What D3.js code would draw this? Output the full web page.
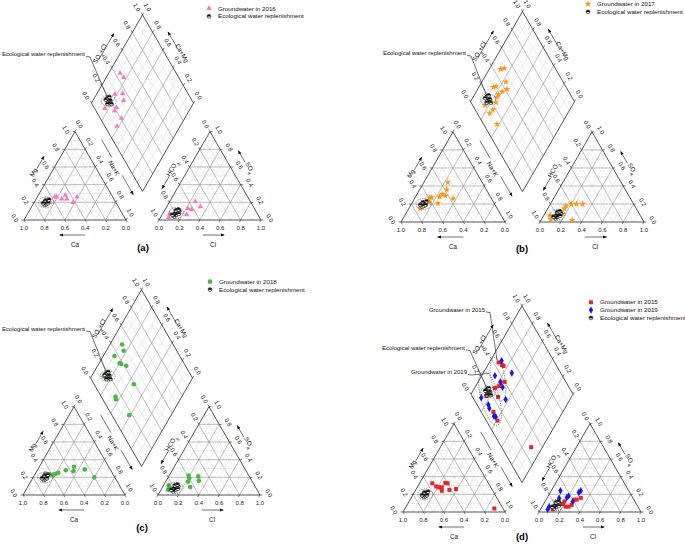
<!DOCTYPE html>
<html>
<head>
<meta charset="utf-8">
<script src="https://cdn.jsdelivr.net/npm/d3@7"></script>
<style>
  body { margin: 0; background: #fff; }
  svg { display: block; font-family: "Liberation Sans", Arial, sans-serif; }
</style>
</head>
<body>
<svg id="chart" width="685" height="544"></svg>
<script>
// ---- data ----
// cation triangle: [Ca, Mg]   anion triangle: [Cl, SO4]   diamond: [SO4+Cl, Ca+Mg]
const ecoCation  = [[0.70,0.20],[0.68,0.22],[0.71,0.17],[0.66,0.21],[0.69,0.18],[0.64,0.23],[0.72,0.19],[0.67,0.19]];
const ecoAnion   = [[0.12,0.08],[0.14,0.06],[0.11,0.11],[0.15,0.10],[0.13,0.04],[0.16,0.07],[0.10,0.06],[0.13,0.12]];
const ecoDiamond = [[0.19,0.87],[0.17,0.85],[0.20,0.83],[0.16,0.88],[0.18,0.82],[0.21,0.86],[0.15,0.84],[0.19,0.80]];

const cation2016  = [[0.67,0.23],[0.645,0.20],[0.57,0.26],[0.55,0.26],[0.51,0.24],[0.455,0.28],[0.46,0.24],[0.42,0.20],[0.35,0.26]];
const anion2016   = [[0.07,0.07],[0.08,0.03],[0.15,0.09],[0.24,0.06],[0.22,0.13],[0.26,0.12],[0.25,0.21],[0.33,0.15]];
const diamond2016 = [[0.45,0.89],[0.46,0.83],[0.28,0.82],[0.36,0.75],[0.33,0.70],[0.10,0.84],[0.22,0.73],[0.18,0.73],[0.21,0.62],[0.12,0.62]];

const cation2017  = [[0.33,0.44],[0.38,0.36],[0.45,0.31],[0.49,0.28],[0.43,0.29],[0.54,0.21],[0.57,0.27],[0.59,0.27],[0.37,0.26],[0.66,0.20],[0.74,0.15],[0.62,0.22]];
const anion2017   = [[0.09,0.03],[0.06,0.07],[0.14,0.11],[0.16,0.15],[0.16,0.18],[0.20,0.20],[0.25,0.20],[0.31,0.20],[0.30,0.02],[0.17,0.09]];
const diamond2017 = [[0.47,0.89],[0.51,0.86],[0.45,0.77],[0.30,0.86],[0.33,0.84],[0.42,0.72],[0.36,0.75],[0.31,0.77],[0.28,0.77],[0.24,0.75],[0.12,0.84],[0.17,0.74],[0.12,0.75],[0.13,0.62]];

const cation2018  = [[0.66,0.24],[0.65,0.23],[0.62,0.23],[0.59,0.23],[0.56,0.24],[0.53,0.25],[0.44,0.28],[0.34,0.32],[0.37,0.27],[0.25,0.29],[0.20,0.20]];
const anion2018   = [[0.05,0.11],[0.08,0.08],[0.10,0.06],[0.07,0.06],[0.19,0.22],[0.21,0.19],[0.22,0.15],[0.29,0.21],[0.32,0.16],[0.27,0.09]];
const diamond2018 = [[0.50,0.88],[0.48,0.83],[0.36,0.89],[0.37,0.80],[0.38,0.78],[0.42,0.72],[0.14,0.88],[0.39,0.54],[0.14,0.65],[0.13,0.63],[0.17,0.41]];

const cation2015  = [[0.55,0.325],[0.53,0.29],[0.51,0.28],[0.48,0.28],[0.50,0.24],[0.42,0.33],[0.40,0.325],[0.42,0.25],[0.35,0.26],[0.68,0.22],[0.085,0.04]];
const anion2015   = [[0.12,0.03],[0.19,0.09],[0.23,0.06],[0.26,0.06],[0.28,0.14],[0.30,0.14],[0.33,0.16],[0.19,0.12],[0.28,0.08]];
const diamond2015 = [[0.45,0.91],[0.47,0.86],[0.48,0.84],[0.40,0.74],[0.35,0.77],[0.32,0.77],[0.27,0.80],[0.14,0.84],[0.25,0.72],[0.12,0.68],[0.11,0.59],[0.29,0.11]];

const cation2019  = [];
const anion2019   = [[0.09,0.24],[0.12,0.155],[0.19,0.165],[0.20,0.18],[0.27,0.12],[0.28,0.22],[0.29,0.24],[0.07,0.06],[0.07,0.03]];
const diamond2019 = [[0.49,0.89],[0.52,0.72],[0.34,0.87],[0.36,0.78],[0.35,0.73],[0.17,0.84],[0.31,0.63],[0.11,0.77],[0.10,0.74],[0.10,0.65],[0.115,0.63],[0.08,0.88]];

const tickValues = [0, 0.2, 0.4, 0.6, 0.8, 1.0];
const gridValues = d3.range(1, 10).map(i => i / 10);

// series styles
const gw2016 = { name: "Groundwater in 2016", color: "#f47cc3", type: d3.symbolTriangle, size: 13, cation: cation2016, anion: anion2016, diamond: diamond2016 };
const gw2017 = { name: "Groundwater in 2017", color: "#ff9415", type: d3.symbolStar, size: 15, cation: cation2017, anion: anion2017, diamond: diamond2017 };
const gw2018 = { name: "Groundwater in 2018", color: "#4cb84a", type: d3.symbolCircle, size: 17, cation: cation2018, anion: anion2018, diamond: diamond2018 };
const gw2015 = { name: "Groundwater in 2015", color: "#e8262a", type: d3.symbolSquare, size: 16, cation: cation2015, anion: anion2015, diamond: diamond2015 };
const gw2019 = { name: "Groundwater in 2019", color: "#1616f0", type: d3.symbolDiamond, size: 16, cation: cation2019, anion: anion2019, diamond: diamond2019 };

// panel layout
const panels = [
  { x0: 24,  y0: 220, s: 102, g: 33, label: "(a)", labelPos: [143, 248], legend: [209, 8.5],
    series: [gw2016], ecoNote: [85, 54], notes: [] },
  { x0: 401, y0: 222, s: 104, g: 35, label: "(b)", labelPos: [522, 249], legend: [588, 4],
    series: [gw2017], ecoNote: [466, 53], notes: [] },
  { x0: 23,  y0: 495, s: 102, g: 33, label: "(c)", labelPos: [142, 528], legend: [210, 281.7],
    series: [gw2018], ecoNote: [85, 328.5], notes: [] },
  { x0: 403, y0: 512, s: 102, g: 34, label: "(d)", labelPos: [522, 537], legend: [591, 302.3],
    series: [gw2015, gw2019], ecoNote: [465, 347.5],
    notes: [
      { text: "Groundwater in 2015", at: [485, 309.5], ellipse: { c: [0.35, 0.82], rx: 7, ry: 22, rot: -10 } },
      { text: "Groundwater in 2019", at: [467, 372],   ellipse: { c: [0.165, 0.79], rx: 9, ry: 28, rot: -15 } }
    ] }
];

const svg = d3.select("#chart");
const R3 = Math.sqrt(3) / 2;
const fmt = d3.format(".1f");

svg.append("defs").append("marker")
  .attr("id", "ah").attr("viewBox", "0 0 10 10").attr("refX", 9).attr("refY", 5)
  .attr("markerUnits", "userSpaceOnUse").attr("markerWidth", 4).attr("markerHeight", 4)
  .attr("orient", "auto")
  .append("path").attr("d", "M0,1L10,5L0,9Z").attr("fill", "#111");

function pt(a, b, t, n, off) {
  return [a[0] + (b[0] - a[0]) * t + n[0] * off, a[1] + (b[1] - a[1]) * t + n[1] * off];
}
const nL = [-R3, -0.5], nR = [R3, -0.5];

function seg(g, a, b, color, w) {
  g.append("line").attr("x1", a[0]).attr("y1", a[1]).attr("x2", b[0]).attr("y2", b[1])
    .attr("stroke", color).attr("stroke-width", w);
}
function arrow(g, a, b) {
  g.append("line").attr("x1", a[0]).attr("y1", a[1]).attr("x2", b[0]).attr("y2", b[1])
    .attr("stroke", "#111").attr("stroke-width", 0.6).attr("marker-end", "url(#ah)");
}
function label(g, pos, txt, rot, size) {
  g.append("text")
    .attr("transform", `translate(${pos[0]},${pos[1]}) rotate(${rot})`)
    .attr("text-anchor", "middle").attr("dy", "0.35em")
    .attr("font-size", size || 6).attr("fill", "#222").text(txt);
}
function title(g, pos, rot, parts) {
  const t = g.append("text")
    .attr("transform", `translate(${pos[0]},${pos[1]}) rotate(${rot})`)
    .attr("text-anchor", "middle").attr("dy", "0.35em").attr("fill", "#111");
  parts.forEach(([s, sub]) => {
    t.append("tspan").attr("font-size", sub ? 4.6 : 6.3)
      .attr("baseline-shift", sub ? "sub" : null).text(s);
  });
}
function ecoMark(sel) {
  sel.append("circle").attr("r", 1.9).attr("fill", "#fff").attr("stroke", "#000").attr("stroke-width", 0.6);
  sel.append("path").attr("d", "M-1.9,0.3A1.9,1.9 0 0 1 1.9,0.3Z").attr("fill", "#000");
}
function dashedEllipse(g, c, rx, ry, rot) {
  g.append("ellipse").attr("transform", `translate(${c[0]},${c[1]}) rotate(${rot})`)
    .attr("rx", rx).attr("ry", ry).attr("fill", "none")
    .attr("stroke", "#333").attr("stroke-width", 0.5).attr("stroke-dasharray", "1.4,1");
}

function drawPanel(p) {
  const g = svg.append("g");
  const len = d3.scaleLinear().domain([0, 1]).range([0, p.s]);
  const x1 = p.x0 + p.s + p.g;
  const bx = p.x0 + p.s + p.g / 2, by = p.y0 - p.g * R3;
  const cat = (a, m) => [p.x0 + len(1 - a - m / 2), p.y0 - len(m) * R3];
  const an  = (c, s4) => [x1 + len(c + s4 / 2), p.y0 - len(s4) * R3];
  const dia = (pp, q) => [bx + len((pp - q) / 2), by - len(pp + q) * R3];

  // grid
  gridValues.forEach(v => {
    const major = Math.round(v * 10) % 2 === 0;
    const col = major ? "#8e8e8e" : "#d6d6d6", w = major ? 0.6 : 0.5;
    seg(g, cat(1 - v, v), cat(0, v), col, w);
    seg(g, cat(v, 0), cat(v, 1 - v), col, w);
    seg(g, cat(1 - v, 0), cat(0, 1 - v), col, w);
    seg(g, an(v, 0), an(v, 1 - v), col, w);
    seg(g, an(0, v), an(1 - v, v), col, w);
    seg(g, an(1 - v, 0), an(0, 1 - v), col, w);
    seg(g, dia(v, 0), dia(v, 1), col, w);
    seg(g, dia(0, v), dia(1, v), col, w);
  });

  // outlines
  const outline = pts => g.append("path").attr("d", d3.line()(pts) + "Z")
    .attr("fill", "none").attr("stroke", "#2a2a2a").attr("stroke-width", 0.8);
  outline([cat(1, 0), cat(0, 0), cat(0, 1)]);
  outline([an(0, 0), an(1, 0), an(0, 1)]);
  outline([dia(0, 0), dia(1, 0), dia(1, 1), dia(0, 1)]);

  // ticks and tick labels
  const tk = (a, d) => seg(g, a, [a[0] + d[0] * 2.5, a[1] + d[1] * 2.5], "#2a2a2a", 0.6);
  const off = (a, d) => [a[0] + d[0], a[1] + d[1]];
  tickValues.forEach(v => {
    const t = fmt(v);
    tk(cat(v, 0), [0.5, R3]);          label(g, off(cat(v, 0), [0, 8]), t, 0);
    tk(cat(1 - v, v), [-1, 0]);        label(g, off(cat(1 - v, v), [-9, -2]), t, 60);
    tk(cat(0, 1 - v), [0.5, -R3]);     label(g, off(cat(0, 1 - v), [4.5, -7.5]), t, 60);
    tk(an(v, 0), [-0.5, R3]);          label(g, off(an(v, 0), [0, 8]), t, 0);
    tk(an(0, 1 - v), [-0.5, -R3]);     label(g, off(an(0, 1 - v), [-4.5, -7.5]), t, 60);
    tk(an(1 - v, v), [1, 0]);          label(g, off(an(1 - v, v), [9, -2]), t, 60);
    tk(dia(v, 1), [-0.5, -R3]);        label(g, off(dia(v, 1), [-5.5, -7.5]), t, 60);
    tk(dia(1, v), [0.5, -R3]);         label(g, off(dia(1, v), [5, -7.5]), t, 60);
  });

  // axis titles with arrows
  const BL = cat(1, 0), BR = cat(0, 0), AP = cat(0, 1);
  title(g, pt(BL, AP, 0.45, nL, 19), -60, [["Mg"]]);
  arrow(g, pt(BL, AP, 0.5, nL, 14.5), pt(BL, AP, 0.64, nL, 14.5));
  title(g, pt(AP, BR, 0.5, nR, 19), 60, [["Na+K"]]);
  seg(g, pt(AP, BR, 0.2, nR, 19), pt(AP, BR, 0.4, nR, 19), "#111", 0.6);
  arrow(g, pt(AP, BR, 0.6, nR, 19), pt(AP, BR, 0.82, nR, 19));
  arrow(g, [p.x0 + len(0.6), p.y0 + 15], [p.x0 + len(0.35), p.y0 + 15]);
  title(g, [p.x0 + len(0.5), p.y0 + 21], 0, [["Ca"]]);

  const BL2 = an(0, 0), BR2 = an(1, 0), AP2 = an(0, 1);
  title(g, pt(BL2, AP2, 0.5, nL, 18), -60, [["HCO"], ["3", true]]);
  arrow(g, pt(BL2, AP2, 0.42, nL, 13), pt(BL2, AP2, 0.28, nL, 13));
  title(g, pt(AP2, BR2, 0.5, nR, 20), 60, [["SO"], ["4", true]]);
  arrow(g, pt(AP2, BR2, 0.43, nR, 15), pt(AP2, BR2, 0.3, nR, 15));
  arrow(g, [x1 + len(0.43), p.y0 + 15], [x1 + len(0.64), p.y0 + 15]);
  title(g, [x1 + len(0.53), p.y0 + 21], 0, [["Cl"]]);

  const L = dia(0, 1), T = dia(1, 1), R = dia(1, 0);
  title(g, pt(L, T, 0.46, nL, 21), -60, [["SO"], ["4", true], ["+Cl"]]);
  arrow(g, pt(L, T, 0.4, nL, 15.5), pt(L, T, 0.7, nL, 15.5));
  title(g, pt(T, R, 0.52, nR, 18.5), 60, [["Ca+Mg"]]);
  arrow(g, pt(T, R, 0.45, nR, 13.5), pt(T, R, 0.27, nR, 13.5));

  // groundwater points
  p.series.forEach(sr => {
    const sym = d3.symbol().type(sr.type).size(sr.size);
    [[sr.cation, cat], [sr.anion, an], [sr.diamond, dia]].forEach(([arr, f]) => {
      g.selectAll(null).data(arr).enter().append("path")
        .attr("d", sym).attr("fill", sr.color)
        .attr("transform", d => { const q = f(d[0], d[1]); return `translate(${q[0]},${q[1]})`; });
    });
  });

  // ecological replenishment points + dashed outlines
  [[ecoCation, cat], [ecoAnion, an], [ecoDiamond, dia]].forEach(([arr, f]) => {
    const c = [d3.mean(arr, d => f(d[0], d[1])[0]), d3.mean(arr, d => f(d[0], d[1])[1])];
    dashedEllipse(g, c, 7.5, 5.5, 0);
    g.selectAll(null).data(arr).enter().append("g")
      .attr("transform", d => { const q = f(d[0], d[1]); return `translate(${q[0]},${q[1]})`; })
      .call(ecoMark);
  });

  // annotations
  const ecoC = [d3.mean(ecoDiamond, d => dia(d[0], d[1])[0]), d3.mean(ecoDiamond, d => dia(d[0], d[1])[1])];
  const note = (txt, at, target) => {
    g.append("text").attr("x", at[0]).attr("y", at[1]).attr("dy", "0.35em")
      .attr("text-anchor", "end").attr("font-size", 6).attr("fill", "#111").text(txt);
    g.append("path").attr("d", d3.line()([[at[0] + 1, at[1] + 2.5], [at[0] + 5, at[1] + 3], target]))
      .attr("fill", "none").attr("stroke", "#111").attr("stroke-width", 0.6);
  };
  note("Ecological water replenishment", p.ecoNote, [ecoC[0] - 2, ecoC[1] - 5]);
  p.notes.forEach(n => {
    const c = dia(n.ellipse.c[0], n.ellipse.c[1]);
    dashedEllipse(g, c, n.ellipse.rx, n.ellipse.ry, n.ellipse.rot);
    note(n.text, n.at, [c[0] - 1, c[1] - n.ellipse.ry + 3]);
  });

  // legend
  const rows = p.series.map(sr => ({ name: sr.name, sr })).concat([{ name: "Ecological water replenishment" }]);
  rows.forEach((r, i) => {
    const y = p.legend[1] + i * 7.8;
    if (r.sr) {
      g.append("path").attr("d", d3.symbol().type(r.sr.type).size(r.sr.size)())
        .attr("fill", r.sr.color).attr("transform", `translate(${p.legend[0]},${y})`);
    } else {
      g.append("g").attr("transform", `translate(${p.legend[0]},${y})`).call(ecoMark);
    }
    g.append("text").attr("x", p.legend[0] + 9).attr("y", y).attr("dy", "0.35em")
      .attr("font-size", 6.2).attr("fill", "#111").text(r.name);
  });

  // panel label
  g.append("text").attr("x", p.labelPos[0]).attr("y", p.labelPos[1]).attr("dy", "0.35em")
    .attr("text-anchor", "middle").attr("font-size", 9.5).attr("font-weight", "bold").text(p.label);
}

panels.forEach(drawPanel);
</script>
</body>
</html>
